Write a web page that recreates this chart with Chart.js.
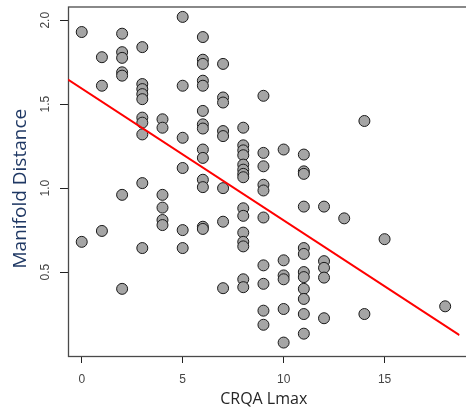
<!DOCTYPE html>
<html>
<head>
<meta charset="utf-8">
<script src="https://cdn.jsdelivr.net/npm/chart.js@4.4.1/dist/chart.umd.min.js"></script>
<style>
html,body{margin:0;padding:0;background:#fff;}
#wrap{width:466px;height:414px;position:relative;}
</style>
</head>
<body>
<div id="wrap"><canvas id="c" width="466" height="414"></canvas></div>
<script>
// ---- data ----
const lmax = [
  0,0,
  1,1,1,
  2,2,2,2,2,2,2,
  3,3,3,3,3,3,3,3,3,3,
  4,4,4,4,4,4,
  5,5,5,5,5,5,
  6,6,6,6,6,6,6,6,6,6,6,6,6,6,
  7,7,7,7,7,7,7,7,
  8,8,8,8,8,8,8,8,8,8,8,8,8,8,8,
  9,9,9,9,9,9,9,9,9,9,
  10,10,10,10,10,10,
  11,11,11,11,11,11,11,11,11,11,11,11,
  12,12,12,12,12,
  13,
  14,14,
  15,
  18
];
const manifoldDistance = [
  1.93,0.68,
  1.78,1.61,0.745,
  1.92,1.81,1.776,1.69,1.67,0.96,0.40,
  1.84,1.62,1.59,1.56,1.53,1.42,1.39,1.32,1.03,0.643,
  1.41,1.36,0.96,0.884,0.81,0.78,
  2.02,1.61,1.30,1.12,0.75,0.643,
  1.90,1.765,1.74,1.64,1.61,1.46,1.38,1.355,1.23,1.18,1.05,1.006,0.77,0.757,
  1.74,1.54,1.51,1.34,1.31,1.0,0.80,0.404,
  1.36,1.255,1.225,1.196,1.14,1.11,1.085,1.065,0.88,0.835,0.735,0.68,0.653,0.457,0.41,
  1.55,1.21,1.13,1.02,0.986,0.825,0.54,0.43,0.27,0.186,
  1.23,0.57,0.48,0.457,0.28,0.08,
  1.20,1.10,1.085,0.89,0.643,0.608,0.50,0.47,0.40,0.34,0.25,0.133,
  0.89,0.565,0.525,0.467,0.225,
  0.82,
  1.40,0.25,
  0.696,
  0.296
];
// fitted regression line endpoints (at the plot edges)
const fitX = [-0.68, 18.71];
const fitY = [1.647, 0.124];
const xTickValues = [0, 5, 10, 15];
const yTickValues = [0.5, 1.0, 1.5, 2.0];
const xTitle = 'CRQA Lmax';
const yTitle = 'Manifold Distance';

const points = lmax.map((x, i) => ({x: x, y: manifoldDistance[i]}));
const fitPoints = fitX.map((x, i) => ({x: x, y: fitY[i]}));

const boxPlugin = {
  id: 'box',
  beforeDatasetsDraw(chart) {
    const {ctx, chartArea: a} = chart;
    ctx.save();
    ctx.strokeStyle = '#4a4a4a';
    ctx.lineWidth = 1.3;
    ctx.strokeRect(a.left + 0.5, a.top + 0.5, a.right - a.left + 10, a.bottom - a.top);
    ctx.restore();
  }
};

new Chart(document.getElementById('c'), {
  type: 'scatter',
  data: {
    datasets: [
      {
        type: 'line',
        data: fitPoints,
        borderColor: '#ff0000',
        borderWidth: 2,
        pointRadius: 0,
        fill: false,
        tension: 0
      },
      {
        data: points,
        backgroundColor: '#a5a5a5',
        borderColor: '#1a1a1a',
        borderWidth: 1,
        pointRadius: 5.5,
        pointHoverRadius: 5.5
      }
    ]
  },
  options: {
    responsive: false,
    animation: false,
    events: [],
    layout: {padding: {top: 2, right: 0, left: 0, bottom: 0}},
    plugins: {legend: {display: false}, tooltip: {enabled: false}},
    scales: {
      x: {
        type: 'linear',
        min: fitX[0],
        max: fitX[1],
        afterBuildTicks: s => { s.ticks = xTickValues.map(v => ({value: v})); },
        afterFit: s => { s.height = 58; s.paddingLeft = 0; s.paddingRight = 0; },
        border: {display: false},
        grid: {display: true, drawOnChartArea: false, drawTicks: true, tickLength: 7, color: '#222', lineWidth: 1},
        ticks: {
          font: {family: 'Liberation Sans', size: 12},
          color: '#444',
          padding: 9,
          maxRotation: 0,
          callback: v => String(v)
        },
        title: {
          display: true,
          text: xTitle,
          font: {family: 'Open Sans', size: 16},
          color: '#262626',
          padding: {top: 0, bottom: 5}
        }
      },
      y: {
        type: 'linear',
        min: 0,
        max: 2.082,
        afterBuildTicks: s => { s.ticks = yTickValues.map(v => ({value: v})); },
        afterFit: s => { s.width = 68; s.paddingTop = 0; s.paddingBottom = 0; },
        border: {display: false},
        grid: {display: true, drawOnChartArea: false, drawTicks: true, tickLength: 8, color: '#222', lineWidth: 1},
        ticks: {
          font: {family: 'Liberation Sans', size: 12},
          color: '#444',
          padding: 6,
          minRotation: 90,
          maxRotation: 90,
          crossAlign: 'center',
          callback: v => Number(v).toFixed(1)
        },
        title: {
          display: true,
          text: yTitle + '\u00a0\u00a0\u00a0',
          font: {family: 'Open Sans', size: 19},
          color: '#1f3864',
          padding: {top: 9, bottom: 0}
        }
      }
    }
  },
  plugins: [boxPlugin]
});
</script>
</body>
</html>
